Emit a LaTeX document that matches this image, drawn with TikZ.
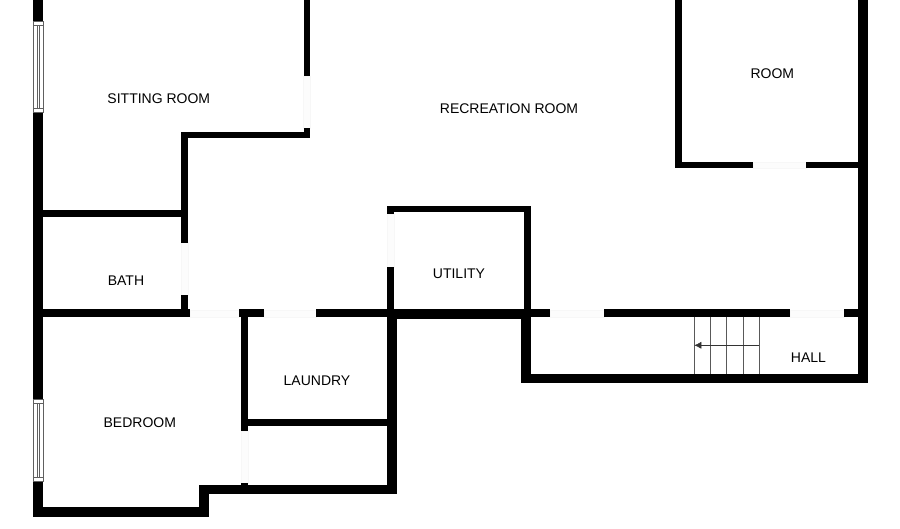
\documentclass[tikz,border=0pt]{standalone}
\usepackage{fontspec}
\setmainfont{Liberation Sans}
\usetikzlibrary{arrows.meta}
\tikzset{
  x=1pt,y=-1pt,
  wall/.style={fill=black,draw=none},
  opening/.style={fill=gray!2,draw=gray!6,line width=0.4pt},
  windowpane/.style={fill=white,draw=gray!75!black,line width=0.7pt},
  stairline/.style={draw=gray!70!black,line width=0.8pt},
  roomlabel/.style={font=\fontsize{14}{16}\selectfont,text=black,inner sep=0pt},
}
\newcommand{\wl}[4]{\fill[wall] (#1,#2) rectangle (#3,#4);}
\newcommand{\op}[4]{\path[opening] (#1,#2) rectangle (#3,#4);}
\newcommand{\wn}[3]{%
  \path[windowpane] (#1,#2) rectangle (#1+10,#3);
  \draw[windowpane,fill=none] (#1+4,#2+4) -- (#1+4,#3-4);
  \draw[windowpane,fill=none] (#1+6.5,#2+4) -- (#1+6.5,#3-4);
  \draw[windowpane,fill=none] (#1,#2+4) -- (#1+10,#2+4);
  \draw[windowpane,fill=none] (#1,#3-4) -- (#1+10,#3-4);}
\begin{document}
\begin{tikzpicture}
\useasboundingbox[fill=white] (0,0) rectangle (900,529);
% openings
\op{303.5}{76}{310}{128.5}
\op{181}{242.6}{187.7}{295}
\op{190}{310}{239}{317}
\op{264}{310}{316}{317}
\op{241}{431}{248}{483}
\op{387}{214}{393.7}{267}
\op{550}{310}{604}{317}
\op{790}{310}{844}{317}
\op{753}{162}{806}{168.3}
% outer left
\wl{33}{0}{43}{21.5}
\wl{33}{112}{43}{399.5}
\wl{33}{481}{43}{516.5}
\wn{33}{21.5}{112}
\wn{33}{399.5}{481}
\wl{33}{507}{209}{516.5}
\wl{199}{485}{209}{516.5}
\wl{199}{485}{397}{494.3}
\wl{387}{310}{397}{494.3}
% sitting room
\wl{303.5}{0}{310}{76}
\wl{303.5}{128.5}{310}{138.3}
\wl{181}{131.7}{310}{138.3}
\wl{181}{131.7}{187.7}{242.6}
\wl{43}{210.5}{181}{217.5}
% bath / laundry
\wl{43}{309.5}{190}{316.7}
\wl{181}{295}{187.7}{310}
\wl{239.3}{309.5}{264}{316.7}
\wl{316}{309.5}{387}{316.7}
\wl{240.7}{310}{247.7}{431}
\wl{240.7}{483}{247.7}{485}
\wl{247.7}{419}{387}{425.7}
% utility
\wl{387}{205.7}{530.7}{212.3}
\wl{387}{205.7}{393.7}{214}
\wl{387}{267}{393.7}{310}
\wl{524.3}{205.7}{531}{310}
\wl{387}{309.5}{531}{319.3}
% hall
\wl{531}{309.5}{550}{316.7}
\wl{604}{309.5}{790}{316.7}
\wl{844}{309.5}{858}{316.7}
\wl{521}{310}{531}{383.5}
\wl{521}{374}{867.5}{383.5}
\wl{857.7}{0}{867.5}{383.5}
% room
\wl{675.3}{0}{681.7}{168.3}
\wl{675.3}{162}{753.3}{168.3}
\wl{806}{162}{858}{168.3}
% stairs
\foreach \sx in {694,710.3,726.7,742.9,759.2}{
  \draw[stairline] (\sx,316.7) -- (\sx,374);
}
\coordinate (stairstart) at (759.2,345.3);
\coordinate (stairend) at (694.3,345.3);
\draw[black!80,line width=0.6pt,-{Latex[length=7pt,width=7pt]}] (stairstart) -- (stairend);
% labels
\node[roomlabel] (sitting) at (158.8,99) {SITTING ROOM};
\node[roomlabel] (recreation) at (509,109) {RECREATION ROOM};
\node[roomlabel] (room) at (772.3,74) {ROOM};
\node[roomlabel] (bath) at (126,281) {BATH};
\node[roomlabel] (utility) at (459,274) {UTILITY};
\node[roomlabel] (laundry) at (317,381) {LAUNDRY};
\node[roomlabel] (bedroom) at (139.8,422.5) {BEDROOM};
\node[roomlabel] (hall) at (808.5,358) {HALL};
\end{tikzpicture}
\end{document}
